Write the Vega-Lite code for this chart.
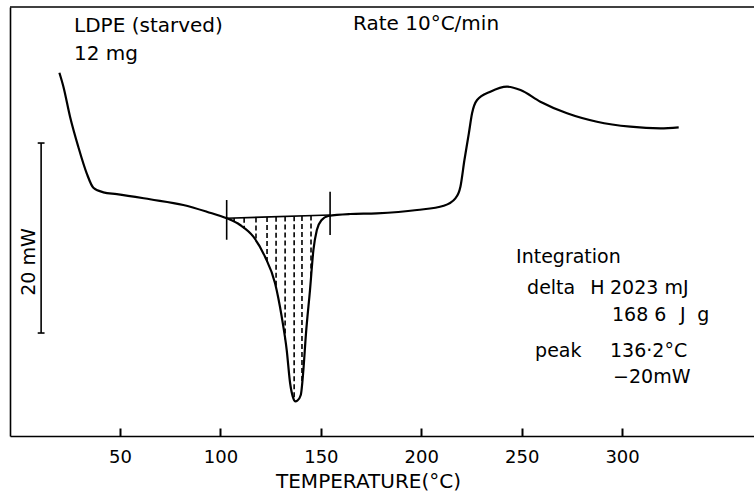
{
  "$schema": "https://vega.github.io/schema/vega-lite/v6.json",
  "width": 744,
  "height": 429,
  "autosize": "none",
  "padding": {"left": 10, "top": 7, "right": 0, "bottom": 62},
  "background": "white",
  "config": {"view": {"stroke": null}, "font": "DejaVu Sans"},
  "datasets": {
    "curve": [
      {"T": 19.8, "mW": 38.24}, {"T": 21.8, "mW": 36.77}, {"T": 25.1, "mW": 33.61}, {"T": 29.2, "mW": 30.45},
      {"T": 33.4, "mW": 27.65}, {"T": 36.7, "mW": 26.14}, {"T": 41.7, "mW": 25.65}, {"T": 48.4, "mW": 25.47},
      {"T": 64.9, "mW": 24.92}, {"T": 81.5, "mW": 24.32}, {"T": 93.2, "mW": 23.61}, {"T": 103.1, "mW": 22.92},
      {"T": 109.8, "mW": 22.21}, {"T": 116.4, "mW": 20.98}, {"T": 122.2, "mW": 18.87}, {"T": 127.2, "mW": 16.07},
      {"T": 130.5, "mW": 12.56}, {"T": 133.0, "mW": 9.05}, {"T": 134.7, "mW": 5.55}, {"T": 136.3, "mW": 3.97},
      {"T": 137.3, "mW": 3.65}, {"T": 138.3, "mW": 3.72}, {"T": 140.0, "mW": 4.32}, {"T": 141.3, "mW": 6.95},
      {"T": 142.6, "mW": 10.81}, {"T": 144.6, "mW": 15.37}, {"T": 146.3, "mW": 19.58}, {"T": 148.0, "mW": 21.68},
      {"T": 150.4, "mW": 22.74}, {"T": 153.7, "mW": 23.16}, {"T": 164.5, "mW": 23.37}, {"T": 177.8, "mW": 23.44},
      {"T": 197.9, "mW": 23.79}, {"T": 211.2, "mW": 24.24}, {"T": 217.0, "mW": 25.02}, {"T": 219.5, "mW": 26.24},
      {"T": 221.5, "mW": 29.05}, {"T": 223.7, "mW": 31.86}, {"T": 225.3, "mW": 33.97}, {"T": 227.8, "mW": 35.37},
      {"T": 234.4, "mW": 36.24}, {"T": 242.7, "mW": 36.77}, {"T": 249.4, "mW": 36.42}, {"T": 259.3, "mW": 35.19},
      {"T": 272.6, "mW": 33.97}, {"T": 287.5, "mW": 33.08}, {"T": 304.1, "mW": 32.56}, {"T": 319.1, "mW": 32.39},
      {"T": 328.2, "mW": 32.49}
    ],
    "hatch": [
      {"T": 106.8, "top": 22.94, "bot": 22.53}, {"T": 111.8, "top": 22.97, "bot": 21.84},
      {"T": 117.7, "top": 23.01, "bot": 20.51}, {"T": 123.2, "top": 23.05, "bot": 18.31},
      {"T": 127.7, "top": 23.08, "bot": 15.54}, {"T": 132.2, "top": 23.11, "bot": 10.17},
      {"T": 136.7, "top": 23.14, "bot": 3.92}, {"T": 140.6, "top": 23.17, "bot": 5.53},
      {"T": 145.1, "top": 23.2, "bot": 16.61}
    ],
    "segments": [
      {"T": 103.1, "T2": 154.6, "y": 22.92, "y2": 23.26},
      {"T": 103.1, "T2": 103.1, "y": 20.66, "y2": 24.84},
      {"T": 154.6, "T2": 154.6, "y": 21.16, "y2": 25.72},
      {"T": 10.7, "T2": 10.7, "y": 10.84, "y2": 30.84},
      {"T": 9.0, "T2": 12.4, "y": 30.84, "y2": 30.84},
      {"T": 9.0, "T2": 12.4, "y": 10.84, "y2": 10.84}
    ],
    "toptext": [
      {"T": 27.1, "mW": 42.53, "label": "LDPE (starved)"},
      {"T": 27.1, "mW": 39.6, "label": "12 mg"},
      {"T": 166.0, "mW": 42.74, "label": "Rate 10°C/min"}
    ],
    "integ": [
      {"T": 247.2, "mW": 18.21, "label": "Integration"},
      {"T": 252.7, "mW": 14.95, "label": "delta"},
      {"T": 284.1, "mW": 14.95, "label": "H"},
      {"T": 294.0, "mW": 14.95, "label": "2023 mJ"},
      {"T": 295.0, "mW": 12.11, "label": "168 6"},
      {"T": 328.9, "mW": 12.11, "label": "J"},
      {"T": 337.4, "mW": 12.11, "label": "g"},
      {"T": 256.7, "mW": 8.32, "label": "peak"},
      {"T": 294.0, "mW": 8.32, "label": "136·2°C"},
      {"T": 295.5, "mW": 5.58, "label": "−20mW"}
    ],
    "scalelabel": [
      {"T": 4.7, "mW": 18.32, "label": "20 mW"}
    ]
  },
  "encoding": {
    "x": {
      "type": "quantitative",
      "scale": {"domain": [-4.8, 365.7], "nice": false, "zero": false},
      "axis": {
        "values": [50, 100, 150, 200, 250, 300],
        "ticks": true,
        "tickSize": -8,
        "tickWidth": 2,
        "tickColor": "black",
        "grid": false,
        "domainColor": "black",
        "domainWidth": 1.6,
        "labelColor": "black",
        "labelFontSize": 18,
        "labelPadding": 20,
        "title": "TEMPERATURE(°C)",
        "titleFontSize": 20,
        "titleFontWeight": "normal",
        "titleColor": "black",
        "titleX": 358,
        "titleY": 51,
        "titleBaseline": "alphabetic",
        "titleAlign": "center",
        "titleAnchor": null
      }
    },
    "y": {
      "type": "quantitative",
      "scale": {"domain": [0, 45.16], "nice": false, "zero": false},
      "axis": {
        "ticks": false,
        "labels": false,
        "grid": false,
        "title": null,
        "domainColor": "black",
        "domainWidth": 1.6
      }
    }
  },
  "layer": [
    {
      "data": {"name": "curve"},
      "mark": {"type": "line", "color": "black", "strokeWidth": 2.2, "interpolate": "monotone"},
      "encoding": {"x": {"field": "T"}, "y": {"field": "mW"}}
    },
    {
      "data": {"name": "hatch"},
      "mark": {"type": "rule", "color": "black", "strokeWidth": 1.6, "strokeDash": [5, 3]},
      "encoding": {"x": {"field": "T"}, "y": {"field": "top"}, "y2": {"field": "bot"}}
    },
    {
      "data": {"name": "segments"},
      "mark": {"type": "rule", "color": "black", "strokeWidth": 1.6},
      "encoding": {"x": {"field": "T"}, "x2": {"field": "T2"}, "y": {"field": "y"}, "y2": {"field": "y2"}}
    },
    {
      "data": {"values": [{"top": 45.16}]},
      "mark": {"type": "rule", "color": "black", "strokeWidth": 1.6},
      "encoding": {"y": {"field": "top"}}
    },
    {
      "data": {"name": "toptext"},
      "mark": {"type": "text", "align": "left", "baseline": "alphabetic", "fontSize": 20, "color": "black"},
      "encoding": {"x": {"field": "T"}, "y": {"field": "mW"}, "text": {"field": "label"}}
    },
    {
      "data": {"name": "integ"},
      "mark": {"type": "text", "align": "left", "baseline": "alphabetic", "fontSize": 19, "color": "black"},
      "encoding": {"x": {"field": "T"}, "y": {"field": "mW"}, "text": {"field": "label"}}
    },
    {
      "data": {"name": "scalelabel"},
      "mark": {"type": "text", "align": "center", "baseline": "middle", "fontSize": 19, "angle": 270, "color": "black"},
      "encoding": {"x": {"field": "T"}, "y": {"field": "mW"}, "text": {"field": "label"}}
    }
  ]
}
